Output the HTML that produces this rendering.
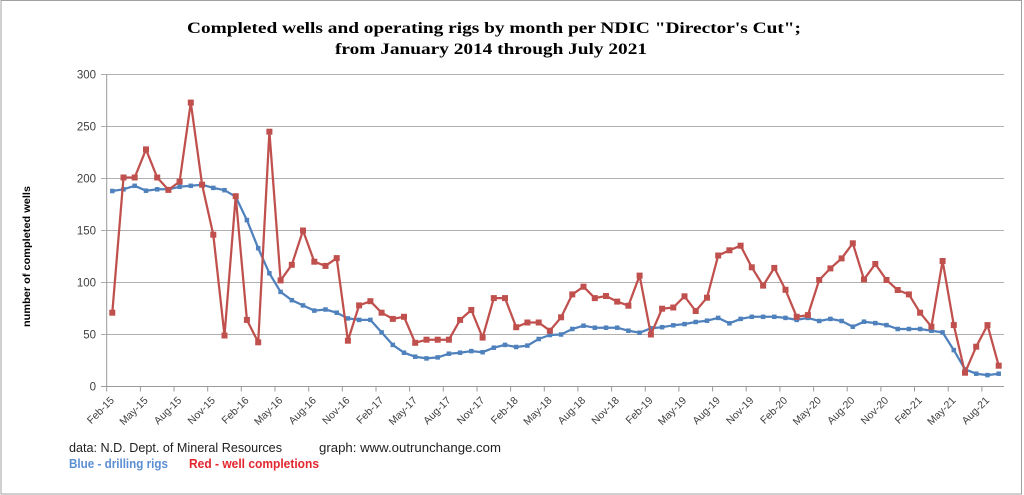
<!DOCTYPE html>
<html><head><meta charset="utf-8"><style>
html,body{margin:0;padding:0;background:#fff;}
svg{display:block;}
</style></head><body>
<svg width="1024" height="495" viewBox="0 0 1024 495" xmlns="http://www.w3.org/2000/svg">
<defs>
<marker id="mr" markerUnits="userSpaceOnUse" markerWidth="8" markerHeight="8" refX="4" refY="4"><rect x="1" y="1" width="6" height="6" fill="#c0504d"/></marker>
<marker id="mb" markerUnits="userSpaceOnUse" markerWidth="6" markerHeight="6" refX="3" refY="3"><rect x="0.75" y="0.75" width="4.5" height="4.5" fill="#4f81bd"/></marker>
</defs>
<rect x="0" y="0" width="1024" height="495" fill="#fff"/>
<rect x="1" y="0.5" width="1020.5" height="493.5" fill="none" stroke="#a0a0a0" stroke-width="1"/>
<g font-family="'Liberation Serif',serif" font-weight="bold" font-size="16" fill="#000">
<text x="187" y="33" textLength="614" lengthAdjust="spacingAndGlyphs">Completed wells and operating rigs by month per NDIC "Director's Cut";</text>
<text x="335" y="54" textLength="312" lengthAdjust="spacingAndGlyphs">from January 2014 through July 2021</text>
</g>
<g stroke="#b0b0b0" stroke-width="1" fill="none">
<path d="M101,74.5H1004M101,126.5H1004M101,178.5H1004M101,230.5H1004M101,282.5H1004M101,334.5H1004"/>
</g>
<g stroke="#9a9a9a" stroke-width="1" fill="none">
<path d="M106.7,74.5V386.5M101,386.5H1004"/>
<path d="M106.7,386.5v5M140.4,386.5v5M174.0,386.5v5M207.7,386.5v5M241.3,386.5v5M275.0,386.5v5M308.7,386.5v5M342.3,386.5v5M376.0,386.5v5M409.6,386.5v5M443.3,386.5v5M477.0,386.5v5M510.6,386.5v5M544.3,386.5v5M577.9,386.5v5M611.6,386.5v5M645.3,386.5v5M678.9,386.5v5M712.6,386.5v5M746.2,386.5v5M779.9,386.5v5M813.6,386.5v5M847.2,386.5v5M880.9,386.5v5M914.5,386.5v5M948.2,386.5v5M981.9,386.5v5"/>
</g>
<g font-family="'Liberation Sans',sans-serif" font-size="11.5" fill="#404040" text-anchor="end">
<text x="96" y="78.5">300</text>
<text x="96" y="130.5">250</text>
<text x="96" y="182.5">200</text>
<text x="96" y="234.5">150</text>
<text x="96" y="286.5">100</text>
<text x="96" y="338.5">50</text>
<text x="96" y="390.5">0</text>
</g>
<text transform="translate(30,256.5) rotate(-90)" font-family="'Liberation Sans',sans-serif" font-weight="bold" font-size="10.5" fill="#000" text-anchor="middle" textLength="141" lengthAdjust="spacingAndGlyphs">number of completed wells</text>
<g font-family="'Liberation Sans',sans-serif" font-size="10.5" fill="#404040" text-anchor="end">
<text transform="translate(114.8,401) rotate(-45)">Feb-15</text>
<text transform="translate(148.5,401) rotate(-45)">May-15</text>
<text transform="translate(182.1,401) rotate(-45)">Aug-15</text>
<text transform="translate(215.8,401) rotate(-45)">Nov-15</text>
<text transform="translate(249.4,401) rotate(-45)">Feb-16</text>
<text transform="translate(283.1,401) rotate(-45)">May-16</text>
<text transform="translate(316.8,401) rotate(-45)">Aug-16</text>
<text transform="translate(350.4,401) rotate(-45)">Nov-16</text>
<text transform="translate(384.1,401) rotate(-45)">Feb-17</text>
<text transform="translate(417.7,401) rotate(-45)">May-17</text>
<text transform="translate(451.4,401) rotate(-45)">Aug-17</text>
<text transform="translate(485.1,401) rotate(-45)">Nov-17</text>
<text transform="translate(518.7,401) rotate(-45)">Feb-18</text>
<text transform="translate(552.4,401) rotate(-45)">May-18</text>
<text transform="translate(586.0,401) rotate(-45)">Aug-18</text>
<text transform="translate(619.7,401) rotate(-45)">Nov-18</text>
<text transform="translate(653.4,401) rotate(-45)">Feb-19</text>
<text transform="translate(687.0,401) rotate(-45)">May-19</text>
<text transform="translate(720.7,401) rotate(-45)">Aug-19</text>
<text transform="translate(754.3,401) rotate(-45)">Nov-19</text>
<text transform="translate(788.0,401) rotate(-45)">Feb-20</text>
<text transform="translate(821.7,401) rotate(-45)">May-20</text>
<text transform="translate(855.3,401) rotate(-45)">Aug-20</text>
<text transform="translate(889.0,401) rotate(-45)">Nov-20</text>
<text transform="translate(922.6,401) rotate(-45)">Feb-21</text>
<text transform="translate(956.3,401) rotate(-45)">May-21</text>
<text transform="translate(989.9,401) rotate(-45)">Aug-21</text>
</g>
<polyline fill="none" stroke="#4f81bd" stroke-width="2.25" stroke-linejoin="round" marker-start="url(#mb)" marker-mid="url(#mb)" marker-end="url(#mb)" points="112.3,191.0 123.5,189.3 134.7,185.8 146.0,190.7 157.2,189.3 168.4,189.3 179.6,186.8 190.8,185.8 202.1,184.7 213.3,187.9 224.5,190.2 235.7,196.7 246.9,220.1 258.2,248.2 269.4,273.3 280.6,291.9 291.8,300.2 303.0,305.4 314.3,310.6 325.5,309.5 336.7,312.7 347.9,318.4 359.1,319.9 370.4,319.9 381.6,332.4 392.8,344.9 404.0,352.7 415.2,356.7 426.5,358.4 437.7,357.4 448.9,353.7 460.1,352.7 471.3,351.1 482.6,352.2 493.8,347.7 505.0,344.9 516.2,347.0 527.4,345.6 538.7,339.0 549.9,335.0 561.1,334.5 572.3,329.0 583.5,325.7 594.8,327.7 606.0,327.7 617.2,327.7 628.4,330.7 639.6,332.7 650.9,328.3 662.1,327.2 673.3,325.3 684.5,324.1 695.7,322.0 707.0,320.7 718.2,317.9 729.4,323.3 740.6,318.9 751.8,316.8 763.1,316.8 774.3,316.8 785.5,317.9 796.7,319.9 807.9,317.9 819.2,321.0 830.4,318.9 841.6,321.0 852.8,326.7 864.0,321.7 875.3,323.1 886.5,325.1 897.7,329.0 908.9,329.0 920.1,329.0 931.4,330.7 942.6,332.4 953.8,350.1 965.0,369.3 976.2,373.7 987.5,375.1 998.7,373.7"/>
<polyline fill="none" stroke="#c0504d" stroke-width="2.25" stroke-linejoin="round" marker-start="url(#mr)" marker-mid="url(#mr)" marker-end="url(#mr)" points="112.3,312.7 123.5,177.5 134.7,177.5 146.0,149.4 157.2,177.5 168.4,189.9 179.6,181.6 190.8,102.6 202.1,184.7 213.3,234.7 224.5,335.5 235.7,196.2 246.9,319.9 258.2,342.3 269.4,131.7 280.6,280.4 291.8,264.8 303.0,230.5 314.3,261.7 325.5,265.9 336.7,258.1 347.9,340.7 359.1,305.4 370.4,301.2 381.6,312.7 392.8,318.9 404.0,316.8 415.2,342.8 426.5,339.7 437.7,339.7 448.9,339.7 460.1,319.9 471.3,310.0 482.6,337.6 493.8,298.1 505.0,298.1 516.2,327.2 527.4,322.5 538.7,322.5 549.9,330.7 561.1,317.3 572.3,294.4 583.5,286.7 594.8,298.1 606.0,296.0 617.2,301.6 628.4,305.7 639.6,275.6 650.9,334.5 662.1,308.7 673.3,307.5 684.5,296.3 695.7,311.0 707.0,297.7 718.2,255.5 729.4,250.3 740.6,245.7 751.8,267.3 763.1,285.6 774.3,267.9 785.5,289.8 796.7,316.8 807.9,315.1 819.2,280.0 830.4,268.4 841.6,258.4 852.8,243.3 864.0,279.4 875.3,264.0 886.5,280.0 897.7,290.0 908.9,294.4 920.1,312.7 931.4,326.7 942.6,261.0 953.8,325.1 965.0,372.7 976.2,346.7 987.5,325.1 998.7,365.7"/>
<g font-family="'Liberation Sans',sans-serif" font-size="13">
<text x="69" y="452" fill="#222" textLength="213" lengthAdjust="spacingAndGlyphs">data: N.D. Dept. of Mineral Resources</text>
<text x="319" y="452" fill="#222" textLength="182" lengthAdjust="spacingAndGlyphs">graph:  www.outrunchange.com</text>
<text x="69" y="468" fill="#5b8fd3" font-weight="bold" textLength="99" lengthAdjust="spacingAndGlyphs">Blue - drilling rigs</text>
<text x="189" y="468" fill="#e3262e" font-weight="bold" textLength="130" lengthAdjust="spacingAndGlyphs">Red - well completions</text>
</g>
</svg>
</body></html>
